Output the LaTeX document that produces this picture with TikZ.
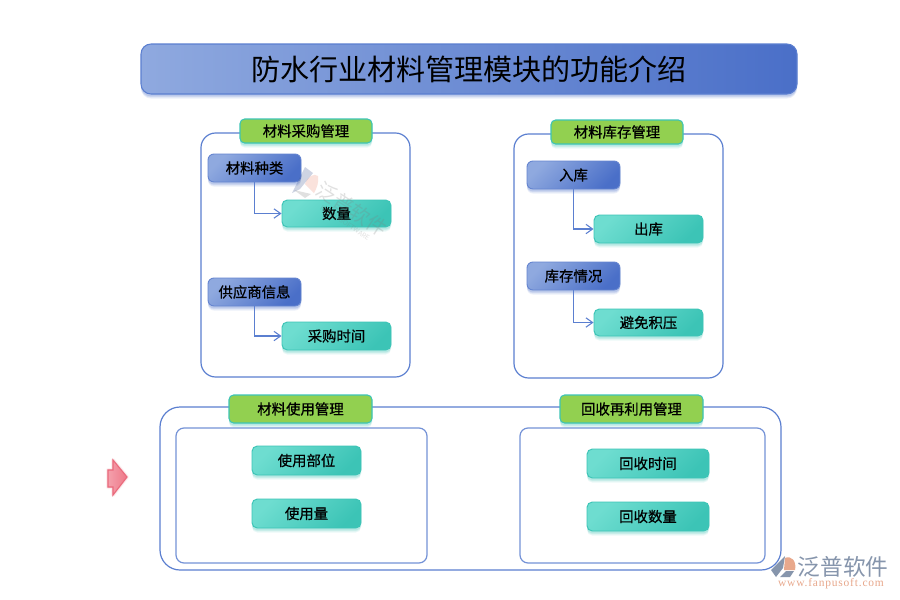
\documentclass[tikz,border=0pt]{standalone}
\usepackage{fontspec}
\setmainfont{Noto Sans CJK SC}
\newfontfamily\labelfont[FakeBold=0.6]{Noto Sans CJK SC}
\newfontfamily\serifl[LetterSpace=7]{Liberation Serif}
\usetikzlibrary{shadows,calc,arrows.meta}
\definecolor{bluelt}{HTML}{8FA9DF}
\definecolor{bluemd}{HTML}{829EDB}
\definecolor{bluedk}{HTML}{4A6FC8}
\definecolor{tealrim}{HTML}{3CC4B6}
\definecolor{teallt}{HTML}{6EDDD0}
\definecolor{tealmd}{HTML}{62D8CA}
\definecolor{tealdk}{HTML}{3CC4B6}
\definecolor{greenfill}{HTML}{92D050}
\definecolor{panelline}{HTML}{5B7FD0}
\definecolor{arrowedge}{HTML}{EA6A7C}
\definecolor{arrowlt}{HTML}{F4A0AC}
\definecolor{arrowdk}{HTML}{EE7888}
\definecolor{brandgray}{HTML}{8695AC}
\definecolor{brandorange}{HTML}{E8A88C}
\tikzset{
  x=0.75pt,y=-0.75pt,
  softshadow/.style={
    general shadow={shadow xshift=0pt,shadow yshift=-3.4pt,fill=#1,opacity=.10},
    general shadow={shadow xshift=0pt,shadow yshift=-2.6pt,fill=#1,opacity=.14},
    general shadow={shadow xshift=0pt,shadow yshift=-1.8pt,fill=#1,opacity=.18}},
  basebox/.style={inner sep=0pt,align=center,text=black},
  titlebox/.style={basebox,draw=panelline,line width=.8pt,rounded corners=7.5pt,
    softshadow=bluedk,left color=bluelt,middle color=bluemd,right color=bluedk,shading angle=90,
    font=\fontsize{21.8}{24}\selectfont},
  bluebox/.style={basebox,draw=bluedk!85,line width=.7pt,rounded corners=4.5pt,
    softshadow=bluedk,top color=bluelt,bottom color=bluedk,shading angle=45,font=\labelfont\fontsize{10.8}{12}\selectfont},
  tealbox/.style={basebox,draw=tealrim,line width=.7pt,rounded corners=4pt,
    softshadow=tealdk,top color=teallt,middle color=tealmd,bottom color=tealdk,shading angle=45,font=\labelfont\fontsize{10.8}{12}\selectfont},
  headbox/.style={basebox,draw=tealrim,line width=.8pt,rounded corners=3.5pt,
    fill=greenfill,softshadow=tealdk,font=\labelfont\fontsize{10.8}{12}\selectfont},
  panel/.style={draw=panelline,line width=.9pt},
  link/.style={draw=panelline,line width=.8pt,-{Straight Barb[length=5pt,width=7pt]}},
}
\newcommand{\placebox}[7]{% name, style, x1,y1,x2,y2, text
  \node[#2,minimum width={(#5-#3)*0.75pt},minimum height={(#6-#4)*0.75pt}] (#1) at ({(#3+#5)/2},{(#4+#6)/2}) {#7};}
\begin{document}
\begin{tikzpicture}
\useasboundingbox (0,0) rectangle (900,600);
\fill[white] (0,0) rectangle (900,600);

% panels
\draw[panel,rounded corners=11pt] (201,133) rectangle (410,377);
\draw[panel,rounded corners=11pt] (514,134) rectangle (723,378);
\draw[panel,rounded corners=15pt] (160,407) rectangle (781,570);
\draw[panel,rounded corners=6pt,draw=panelline!85] (176,428) rectangle (427,563);
\draw[panel,rounded corners=6pt,draw=panelline!85] (520,428) rectangle (765,563);

% title
\placebox{title}{titlebox}{141}{44}{797}{94}{防水行业材料管理模块的功能介绍}

% headers
\placebox{h1}{headbox}{240}{119}{372}{143}{材料采购管理}
\placebox{h2}{headbox}{551}{120}{683}{144}{材料库存管理}
\placebox{h3}{headbox}{229}{395}{372}{423}{材料使用管理}
\placebox{h4}{headbox}{560}{395}{703}{423}{回收再利用管理}

% procurement
\placebox{a1}{bluebox}{208}{154}{301}{182}{材料种类}
\placebox{a2}{tealbox}{282}{200}{391}{227}{数量}
\placebox{a3}{bluebox}{208}{278}{301}{306}{供应商信息}
\placebox{a4}{tealbox}{282}{322}{391}{350}{采购时间}
% stock
\placebox{b1}{bluebox}{527}{161}{620}{189}{入库}
\placebox{b2}{tealbox}{594}{215}{703}{243}{出库}
\placebox{b3}{bluebox}{527}{262}{620}{290}{库存情况}
\placebox{b4}{tealbox}{594}{309}{703}{336}{避免积压}
% use
\placebox{c1}{tealbox}{252}{446}{361}{475}{使用部位}
\placebox{c2}{tealbox}{252}{499}{361}{528}{使用量}
% recycle
\placebox{d1}{tealbox}{587}{449}{709}{478}{回收时间}
\placebox{d2}{tealbox}{587}{502}{709}{531}{回收数量}

% connectors
\draw[link] (a1.south) |- (a2.west);
\draw[link] (a3.south) |- (a4.west);
\draw[link] (b1.south) |- (b2.west);
\draw[link] (b3.south) |- (b4.west);

% watermark, lying over the boxes
\begin{scope}[opacity=.24]
  \fill[bluedk!70!black] (292,193) -- (305,167) -- (313,173) -- (300,189) -- cycle;
  \fill[brandorange!80!red] (305,184) .. controls (308,176) and (314,173) .. (318,176) .. controls (319,182) and (317,188) .. (314,193) -- cycle;
  \fill[gray] (294,190) -- (311,194) -- (305,198) -- cycle;
  \node[rotate=-33,text=gray,inner sep=0pt,font=\fontsize{15}{16}\selectfont] (wm) at (352,209) {泛普软件};
  \node[rotate=-33,text=gray,inner sep=0pt,font=\fontsize{5}{6}\selectfont] (wm2) at (345,223) {FANPU SOFTWARE};
\end{scope}

% red arrow
\begin{scope}
  \foreach \g/\o in {3.0/.07,2.0/.10,1.2/.14}{
    \draw[line width=\g pt,draw=arrowedge,opacity=\o,line join=round]
      (127,477) -- (113,460) -- (113,470) -- (108,470) -- (108,487) -- (113,487) -- (113,495) -- cycle;}
  \draw[draw=arrowedge,line width=.8pt,left color=arrowlt,right color=arrowdk,shading angle=90]
    (127,477) -- (113,460) -- (113,470) -- (108,470) -- (108,487) -- (113,487) -- (113,495) -- cycle;
\end{scope}

% bottom-right logo
\fill[brandgray] (771,570) -- (785,556) -- (783,568) -- (776,577) -- cycle;
\fill[brandorange] (785,558) .. controls (791,555) and (797,561) .. (795,570) -- (784,570) -- cycle;
\fill[brandgray] (780,577) -- (786,571) -- (794,571) -- (790,577) -- cycle;
\node[text=brandgray,inner sep=0pt,font=\fontsize{17}{18}\selectfont] (brand) at (843,567) {泛普软件};
\node[text=brandorange,inner sep=0pt,font=\serifl\fontsize{8.6}{9}\selectfont] (url) at (831,584) {www.fanpusoft.com};
\end{tikzpicture}
\end{document}
